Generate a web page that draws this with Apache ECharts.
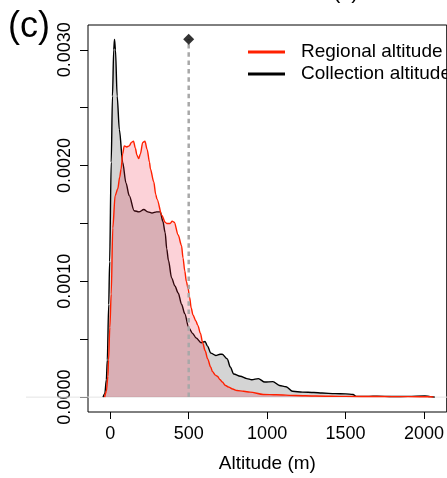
<!DOCTYPE html>
<html><head><meta charset="utf-8">
<script src="https://cdn.jsdelivr.net/npm/echarts@6/dist/echarts.min.js"></script>
<style>html,body{margin:0;padding:0;background:#fff}#c{width:447px;height:478px}</style>
</head><body><div id="c"></div>
<script>
// Collection altitude density (black)
const collectionAlt = [-46,-35,-25,-19,-10,-4,6,14,22,27,33,44,58,79,100,121,152,183,214,240,266,295,319,335,350,360,371,391,412,433,455,475,500,525,548,579,604,620,641,673,700,714,746,765,787,829,871,902,944,985,1037,1079,1121,1162,1225,1298,1350,1433,1500,1548,1568,1650,1700,1800,1900,2006,2040,2069];
const collectionDen = [0,0.00003,0.00015,0.00032,0.0008,0.00117,0.00203,0.0026,0.003,0.00309,0.003,0.0026,0.00231,0.00203,0.00185,0.00174,0.00161,0.0016,0.00162,0.0016,0.00159,0.0016,0.0016,0.00152,0.00142,0.00128,0.00118,0.00103,0.00096,0.0009,0.0008,0.00072,0.0006,0.00055,0.00051,0.00047,0.00048,0.00044,0.00038,0.00036,0.00037,0.00037,0.00033,0.00026,0.0002,0.00018,0.00016,0.00015,0.00016,0.00013,0.000134,0.0001,0.00009,0.00005,0.000043,0.00004,0.000035,0.00003,0.000028,0.000023,0.000006,0.000006,0.000008,0.000005,0.000006,0.00001,0.000004,0];
// Regional altitude density (red)
const regionalAlt = [-36,-25,-15,-11,-3,6,16,31,48,60,69,79,89,105,121,135,148,160,170,181,192,207,221,235,250,256,277,290,298,329,350,360,381,395,408,433,454,464,475,485,496,506,516,527,545,558,575,589,605,621,640,652,670,683,700,714,735,756,780,808,850,891,975,1058,1183,1308,1500,1700,1900,2050,2060];
const regionalDen = [0,0.00005,0.00018,0.00032,0.0006,0.00089,0.00146,0.00174,0.0018,0.0019,0.00197,0.0021,0.00217,0.00216,0.00217,0.0022,0.00221,0.00215,0.00209,0.00206,0.0021,0.0022,0.00221,0.00214,0.00203,0.00197,0.00186,0.00175,0.00171,0.00157,0.00151,0.0015,0.0015,0.00152,0.00151,0.0014,0.00131,0.0012,0.00109,0.001,0.00094,0.00086,0.00077,0.00071,0.00066,0.00062,0.00055,0.00047,0.0004,0.00033,0.00026,0.00022,0.00019,0.00018,0.00015,0.00013,0.0001,0.000086,0.00007,0.000057,0.00005,0.000043,0.000023,0.00002,0.000014,0.00001,0.000006,0.000005,0.000004,0.000003,0];
const xTicks = [0,500,1000,1500,2000];
const yTickValues = [0,0.0005,0.001,0.0015,0.002,0.0025,0.003];
const yLabelValues = [0,0.001,0.002,0.003];
const seriesNames = ['Regional altitude','Collection altitude'];
const markerAlt = 500;
const markerDen = 0.00309;

const pair = (xs, ys) => xs.map((x, i) => [x, ys[i]]);
const FONT = 'Liberation Sans';
const chart = echarts.init(document.getElementById('c'), null, {renderer: 'canvas'});
chart.setOption({
  animation: false,
  backgroundColor: '#fff',
  grid: {left: 88, top: 25, right: -7, bottom: 63, show: true, borderColor: '#000', borderWidth: 1, containLabel: false},
  xAxis: {
    type: 'value', min: -142, max: 2145,
    name: 'Altitude (m)', nameLocation: 'middle', nameGap: 42,
    nameTextStyle: {fontSize: 19, fontFamily: FONT, color: '#000'},
    axisLine: {show: false, onZero: false},
    axisTick: {show: true, length: 7, lineStyle: {color: '#000'}, customValues: xTicks},
    axisLabel: {fontSize: 18, fontFamily: FONT, color: '#000', margin: 13, customValues: xTicks, formatter: v => String(v)},
    splitLine: {show: false}
  },
  yAxis: {
    type: 'value', min: -0.0001286, max: 0.003214,
    axisLine: {show: false, onZero: false},
    axisTick: {show: true, length: 8, lineStyle: {color: '#000'}, customValues: yTickValues},
    axisLabel: {fontSize: 18, fontFamily: FONT, color: '#000', rotate: 90, margin: 14, customValues: yLabelValues, formatter: v => v.toFixed(4)},
    splitLine: {show: false}
  },
  legend: {
    orient: 'vertical', left: 243, top: 37, itemWidth: 37, itemHeight: 3, itemGap: 2,
    textStyle: {fontSize: 19, fontFamily: FONT, color: '#000', lineHeight: 20, padding: [0, 0, 0, 11]},
    data: [{name: seriesNames[0], icon: 'rect'}, {name: seriesNames[1], icon: 'rect'}]
  },
  graphic: [{type: 'text', left: 8, top: 9, style: {text: '(c)', fontSize: 36, fontFamily: FONT, fill: '#000'}},
            {type: 'text', left: 333, top: -19, style: {text: '(c)', fontSize: 22, fontFamily: FONT, fill: '#000'}}],
  series: [
    {name: seriesNames[1], type: 'line', data: pair(collectionAlt, collectionDen), showSymbol: false, symbol: 'none',
     smooth: 0.3, smoothMonotone: 'x', color: '#000', lineStyle: {color: '#000', width: 1.4},
     areaStyle: {color: 'rgba(0,0,0,0.17)', opacity: 1, origin: 0}, z: 2},
    {name: seriesNames[0], type: 'line', data: pair(regionalAlt, regionalDen), showSymbol: false, symbol: 'none',
     smooth: 0.3, smoothMonotone: 'x', color: '#ff2000', lineStyle: {color: '#ff2000', width: 1.4},
     areaStyle: {color: 'rgba(240,30,60,0.2)', opacity: 1, origin: 0}, z: 3},
    {name: 'marker line', type: 'line', data: [[markerAlt, 0], [markerAlt, markerDen]], symbol: 'none',
     lineStyle: {color: '#a8a8a8', width: 2.5, type: [4.5, 3.8]}, z: 4},
    {name: 'marker', type: 'scatter', data: [[markerAlt, markerDen]], symbol: 'diamond', symbolSize: 11,
     itemStyle: {color: '#000'}, z: 5}
  ]
});
const p0 = chart.convertToPixel({gridIndex: 0}, [0, 0]);
chart.setOption({graphic: [{}, {}, {type: 'line', shape: {x1: 26, y1: p0[1], x2: 447, y2: p0[1]}, style: {stroke: '#e4e4e4', lineWidth: 1}, z: 1, silent: true}]});
</script>
</body></html>
